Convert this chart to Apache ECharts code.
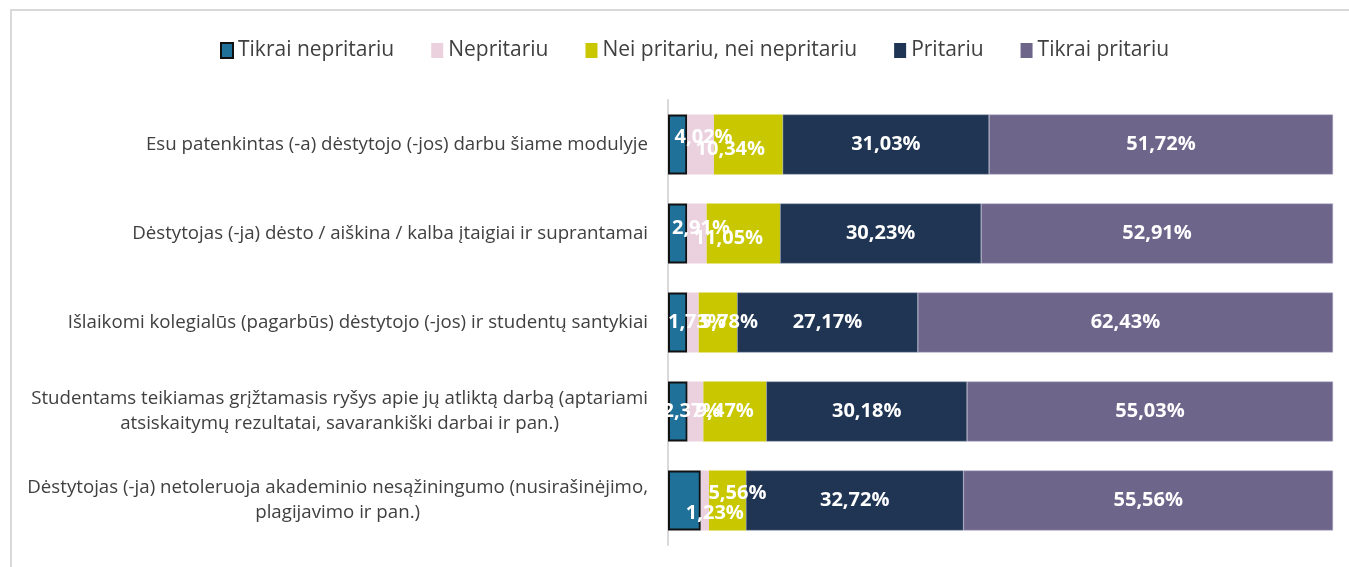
<!DOCTYPE html>
<html>
<head>
<meta charset="utf-8">
<script src="https://cdn.jsdelivr.net/npm/echarts@6/dist/echarts.min.js"></script>
<style>
  html, body { margin: 0; padding: 0; background: #ffffff; }
  #frame { position: absolute; left: 10px; top: 9px; width: 1345px; height: 565px;
           border-left: 2px solid #d9d9d9; border-top: 2px solid #d9d9d9; }
  #chart { position: absolute; left: 0; top: 0; width: 1349px; height: 567px; }
</style>
</head>
<body>
<div id="frame"></div>
<div id="chart"></div>
<script>
// Survey statements (top to bottom)
const categories = [
  'Esu patenkintas (-a) dėstytojo (-jos) darbu šiame modulyje',
  'Dėstytojas (-ja) dėsto / aiškina / kalba įtaigiai ir suprantamai',
  'Išlaikomi kolegialūs (pagarbūs) dėstytojo (-jos) ir studentų santykiai',
  'Studentams teikiamas grįžtamasis ryšys apie jų atliktą darbą (aptariami\natsiskaitymų rezultatai, savarankiški darbai ir pan.)',
  'Dėstytojas (-ja) netoleruoja akademinio nesąžiningumo (nusirašinėjimo,\nplagijavimo ir pan.)'
];

const seriesNames = ['Tikrai nepritariu', 'Nepritariu', 'Nei pritariu, nei nepritariu', 'Pritariu', 'Tikrai pritariu'];

// Share of answers, %
const tikraiNepritariu = [2.89, 2.90, 2.89, 2.95, 4.93];
const nepritariu       = [4.02, 2.91, 1.73, 2.37, 1.23];
const neiPritariu      = [10.34, 11.05, 5.78, 9.47, 5.56];
const pritariu         = [31.03, 30.23, 27.17, 30.18, 32.72];
const tikraiPritariu   = [51.72, 52.91, 62.43, 55.03, 55.56];

const colors = ['#1f719a', '#ebd1de', '#c9c800', '#203553', '#6e658b'];

// Hand-placed label nudges for the narrow segments [dx, dy]
const nudgeNepritariu = [[3, -7], [4, -5], [4, 0], [-4, 0], [10, 13]];
const nudgeNeiPritariu = [[-18, 5], [-15, 5], [11, 0], [-10, 0], [10, -7]];

const fmt = v => v.toFixed(2).replace('.', ',') + '%';

const labelBase = {
  show: true,
  position: 'inside',
  color: '#ffffff',
  fontFamily: 'Open Sans',
  fontWeight: 'bold',
  fontSize: 20,
  formatter: p => fmt(p.value)
};

function withNudges(values, nudges) {
  return values.map((v, i) => ({ value: v, label: { offset: nudges[i] } }));
}

const chart = echarts.init(document.getElementById('chart'), null, { renderer: 'canvas' });

chart.setOption({
  animation: false,
  color: colors,
  textStyle: { fontFamily: 'Open Sans' },
  legend: {
    top: 35,
    left: 215,
    itemWidth: 12,
    itemHeight: 15,
    itemGap: 37,
    icon: 'rect',
    textStyle: { fontFamily: 'Open Sans', fontSize: 21, color: '#404040' },
    data: seriesNames.map((n, i) => i === 0 ? { name: n } : { name: n, itemStyle: { borderWidth: 0 } })
  },
  grid: { left: 668, right: 16, top: 100, bottom: 22, containLabel: false },
  xAxis: {
    type: 'value', min: 0, max: 100, show: false
  },
  yAxis: {
    type: 'category',
    inverse: true,
    data: categories,
    axisLine: { show: true, lineStyle: { color: '#d9d9d9', width: 2 } },
    axisTick: { show: false },
    axisLabel: {
      margin: 20,
      color: '#404040',
      fontFamily: 'Open Sans',
      fontSize: 18.7,
      lineHeight: 25,
      formatter: v => v.split('\n').map(l => '{c|' + l + '}').join('\n'),
      rich: { c: { align: 'center', fontFamily: 'Open Sans', fontSize: 18.7, color: '#404040', lineHeight: 25 } }
    }
  },
  series: [
    {
      name: seriesNames[0], type: 'bar', stack: 'all', barWidth: 60,
      data: tikraiNepritariu,
      itemStyle: { color: colors[0], borderColor: '#111111', borderWidth: 2 },
      label: { show: false }
    },
    {
      name: seriesNames[1], type: 'bar', stack: 'all', barWidth: 60,
      data: withNudges(nepritariu, nudgeNepritariu),
      itemStyle: { color: colors[1] },
      label: labelBase
    },
    {
      name: seriesNames[2], type: 'bar', stack: 'all', barWidth: 60,
      data: withNudges(neiPritariu, nudgeNeiPritariu),
      itemStyle: { color: colors[2] },
      label: labelBase
    },
    {
      name: seriesNames[3], type: 'bar', stack: 'all', barWidth: 60,
      data: pritariu,
      itemStyle: { color: colors[3], borderColor: '#8d9bb0', borderWidth: 0.5 },
      label: labelBase
    },
    {
      name: seriesNames[4], type: 'bar', stack: 'all', barWidth: 60,
      data: tikraiPritariu,
      itemStyle: { color: colors[4], borderColor: '#b3adc6', borderWidth: 0.5 },
      label: labelBase
    }
  ]
});
</script>
</body>
</html>
